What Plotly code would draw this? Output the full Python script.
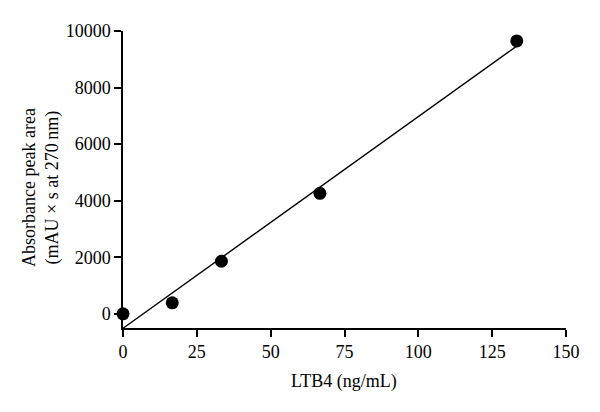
import numpy as np
import plotly.graph_objects as go

# Data
ltb4_conc = [0, 16.67, 33.33, 66.67, 133.33]          # ng/mL
peak_area = [0, 390, 1860, 4260, 9650]                # mAU x s at 270 nm
x_ticks = [0, 25, 50, 75, 100, 125, 150]
y_ticks = [0, 2000, 4000, 6000, 8000, 10000]
y_tick_text = ["0", "2000", "4000", "6000", "8000", "10000"]

slope, intercept = np.polyfit(ltb4_conc, peak_area, 1)
fit_x = [0, max(ltb4_conc)]
fit_y = [intercept + slope * v for v in fit_x]

FONT = "Liberation Serif"
FS = 18

fig = go.Figure()
fig.add_trace(go.Scatter(x=fit_x, y=fit_y, mode="lines",
                         line=dict(color="black", width=1.4),
                         showlegend=False, hoverinfo="skip", cliponaxis=False))
fig.add_trace(go.Scatter(x=ltb4_conc, y=peak_area, mode="markers",
                         marker=dict(color="black", size=13),
                         showlegend=False, cliponaxis=False))

OFF = 8  # page body margin
W, H = 600 - OFF, 412 - OFF
L, R, T, B = 123 - OFF, 34, 31 - OFF, 84
PW, PH = W - L - R, H - T - B


def px_x(p):  # page pixel -> paper x
    return (p - OFF - L) / PW


def px_y(p):  # page pixel -> paper y
    return ((H - B) - (p - OFF)) / PH


fig.update_layout(
    width=W, height=H,
    margin=dict(l=L, r=R, t=T, b=B),
    plot_bgcolor="white", paper_bgcolor="white",
    font=dict(family=FONT, size=FS, color="black"),
    xaxis=dict(range=[0, 150], tickvals=x_ticks, showgrid=False, zeroline=False,
               showline=True, linecolor="black", linewidth=1.5,
               ticks="outside", ticklen=7, tickwidth=1.5, tickcolor="black",
               tickfont=dict(family=FONT, size=FS)),
    yaxis=dict(range=[-500, 10000], tickvals=y_ticks, ticktext=y_tick_text,
               showgrid=False, zeroline=False,
               showline=True, linecolor="black", linewidth=1.5,
               ticks="outside", ticklen=7, tickwidth=1.5, tickcolor="black",
               tickfont=dict(family=FONT, size=FS)),
    annotations=[
        dict(text="LTB4 (ng/mL)", xref="paper", yref="paper",
             x=px_x(344), y=px_y(381),
             xanchor="center", yanchor="middle", showarrow=False,
             font=dict(family=FONT, size=FS)),
        dict(text="Absorbance peak area<br>(mAU × s at 270\u2009nm)", xref="paper", yref="paper",
             x=px_x(40.5), y=px_y(187.5),
             xanchor="center", yanchor="middle", showarrow=False, textangle=-90,
             font=dict(family=FONT, size=FS)),
    ],
)

fig.write_html("out.html")
